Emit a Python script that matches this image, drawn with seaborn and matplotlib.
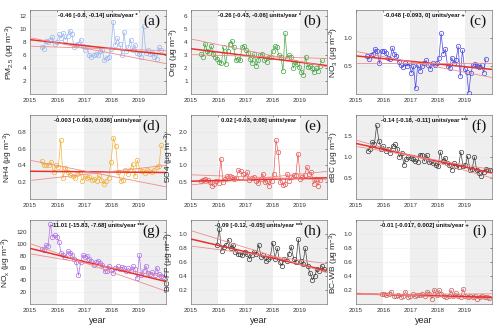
import numpy as np
import pandas as pd
import matplotlib
matplotlib.use("Agg")
import matplotlib.pyplot as plt
import seaborn as sns

sns.set_theme(style="white")
plt.rcParams['font.family'] = ['Liberation Sans', 'DejaVu Sans']
plt.rcParams['mathtext.fontset'] = 'custom'
plt.rcParams['mathtext.rm'] = 'Liberation Sans'
plt.rcParams['mathtext.it'] = 'Liberation Sans'

# ---------------- data ----------------
labels = ["(a)", "(b)", "(c)", "(d)", "(e)", "(f)", "(g)", "(h)", "(i)"]
ylabels = [r"PM$_{2.5}$ ($\mu$g m$^{-3}$)", r"Org ($\mu$g m$^{-3}$)", r"NO$_3$ ($\mu$g m$^{-3}$)",
           r"NH4 ($\mu$g m$^{-3}$)", r"SO4 ($\mu$g m$^{-3}$)", r"eBC ($\mu$g m$^{-3}$)",
           r"NO$_x$ ($\mu$g m$^{-3}$)", r"BC-FF ($\mu$g m$^{-3}$)", r"BC-WB ($\mu$g m$^{-3}$)"]
trend_text = ["-0.46 [-0.8, -0.14] units/year *", "-0.26 [-0.43, -0.06] units/year *",
              "-0.048 [-0.093, 0] units/year +", "-0.003 [-0.063, 0.036] units/year",
              "0.02 [-0.03, 0.08] units/year", "-0.14 [-0.18, -0.11] units/year ***",
              "-11.01 [-15.83, -7.68] units/year ***", "-0.09 [-0.12, -0.05] units/year ***",
              "-0.01 [-0.017, 0.002] units/year +"]
# first and last sampling dates of each series
first_date = ["2015-06-05", "2015-05-15", "2015-05-25", "2015-06-05", "2015-05-15", "2015-06-05",
              "2015-06-05", "2015-12-15", "2015-12-10"]
last_date = ["2019-10-25", "2019-10-25", "2019-10-10", "2019-10-30", "2019-10-01", "2019-12-10",
             "2019-11-25", "2019-11-20", "2019-11-28"]
ylims = [(0, 13), (0, 6.5), (0, 1.5), (0, 1.0), (0, 2.5), (0, 2.0), (0, 140), (0, 1.2), (0, 1.2)]
yticks = [[2, 4, 6, 8, 10, 12], [1, 2, 3, 4, 5, 6], [0.5, 1.0], [0.2, 0.4, 0.6, 0.8],
          [0.5, 1.0, 1.5, 2.0], [0.5, 1.0, 1.5], [20, 40, 60, 80, 100, 120],
          [0.2, 0.4, 0.6, 0.8, 1.0], [0.2, 0.4, 0.6, 0.8, 1.0]]
ytickfmt = ["{:.0f}", "{:.0f}", "{:.1f}", "{:.1f}", "{:.1f}", "{:.1f}", "{:.0f}", "{:.1f}", "{:.1f}"]
colors = ["#9db8ee", "#4aa84a", "#4a4ae6", "#f2b23a", "#e85a5a", "#404040",
          "#b070e8", "#404040", "#c86060"]

pm25 = [7.2, 7.0, 8.2, 8.0, 8.4, 8.8, 7.8, 8.0, 9.2, 8.6, 9.4, 8.4, 9.0, 9.8, 9.2, 7.2, 7.6, 7.8,
        8.4, 7.4, 6.8, 7.2, 6.0, 5.8, 6.0, 6.2, 6.0, 6.6, 6.8, 5.2, 5.6, 5.8, 7.0, 11.2, 7.6, 8.6,
        7.8, 6.0, 9.6, 6.6, 7.2, 8.4, 6.8, 7.6, 6.4, 6.2, 5.8, 10.5, 6.4, 6.8, 6.2, 6.4, 5.8, 5.4,
        7.2, 6.8]
org = [3.1, 2.9, 3.9, 3.3, 3.2, 3.7, 3.1, 2.9, 2.7, 2.5, 2.4, 3.6, 2.3, 3.3, 3.9, 4.1, 3.6, 2.6,
       2.7, 2.6, 3.6, 3.7, 3.4, 3.2, 2.7, 2.4, 3.1, 2.2, 2.6, 3.0, 3.1, 2.6, 2.5, 2.9, 2.9, 3.3,
       3.7, 3.6, 3.0, 2.9, 1.8, 4.7, 2.8, 3.0, 2.9, 2.0, 2.5, 2.3, 2.1, 1.7, 1.5, 2.9, 2.1, 2.2,
       2.0, 1.7, 2.0, 1.8, 2.2, 2.6]
no3 = [0.68, 0.62, 0.70, 0.72, 0.80, 0.76, 0.55, 0.77, 0.77, 0.73, 0.65, 0.62, 0.82, 0.72, 0.68,
       0.58, 0.52, 0.48, 0.55, 0.50, 0.55, 0.38, 0.50, 0.10, 0.52, 0.42, 0.50, 0.55, 0.60, 0.52,
       0.45, 0.55, 0.52, 0.55, 0.65, 1.08, 0.72, 0.80, 0.50, 0.47, 0.65, 0.55, 0.60, 0.85, 0.32,
       0.78, 0.45, 0.40, 0.02, 0.38, 0.52, 0.53, 0.50, 0.48, 0.52, 0.38, 0.63]
nh4 = [0.45, 0.40, 0.41, 0.40, 0.44, 0.32, 0.40, 0.38, 0.70, 0.25, 0.37, 0.32, 0.28, 0.27, 0.25,
       0.30, 0.32, 0.22, 0.27, 0.25, 0.26, 0.23, 0.24, 0.22, 0.28, 0.23, 0.18, 0.22, 0.25, 0.44,
       0.73, 0.63, 0.32, 0.22, 0.23, 0.34, 0.30, 0.35, 0.42, 0.27, 0.46, 0.35, 0.33, 0.31, 0.34,
       0.33, 0.32, 0.35, 0.38, 0.39, 0.64]
so4 = [0.55, 0.58, 0.60, 0.58, 0.50, 0.40, 0.45, 0.55, 0.48, 1.20, 0.50, 0.60, 0.68, 0.68, 0.65,
       0.60, 0.62, 0.85, 0.82, 0.75, 0.65, 0.80, 0.58, 0.62, 0.65, 0.55, 0.48, 0.60, 0.75, 0.50,
       0.55, 0.40, 0.55, 0.75, 1.75, 1.40, 0.50, 0.42, 0.45, 0.75, 0.55, 0.65, 0.70, 0.72, 1.35,
       0.60, 0.65, 0.70, 0.95, 0.75, 0.80, 0.45, 0.60, 0.40, 0.58]
ebc = [1.15, 1.20, 1.35, 1.30, 1.75, 1.38, 1.20, 1.25, 1.15, 1.20, 1.10, 1.25, 1.30, 1.20, 1.00,
       1.10, 0.82, 0.95, 1.00, 0.98, 0.95, 0.90, 0.88, 1.05, 1.05, 0.90, 1.05, 0.88, 0.90, 0.85,
       0.80, 0.78, 1.12, 0.90, 0.98, 0.85, 0.80, 0.70, 0.85, 0.78, 0.75, 1.12, 0.78, 0.80, 1.02,
       0.70, 0.72, 1.00, 0.68, 0.62, 0.55, 0.65, 0.72, 0.70, 0.68]
nox = [92, 90, 98, 97, 133, 112, 115, 112, 104, 85, 82, 78, 88, 86, 82, 75, 70, 48, 70, 82, 78,
       80, 75, 72, 65, 70, 72, 68, 66, 55, 56, 64, 57, 52, 60, 63, 58, 62, 60, 56, 60, 55, 63, 58,
       43, 82, 48, 55, 64, 52, 50, 53, 48, 61, 50, 47, 46]
bcff = [0.85, 1.08, 0.76, 0.82, 0.85, 0.92, 0.80, 0.85, 0.75, 0.72, 0.72, 0.70, 0.75, 0.72, 0.65,
        0.70, 0.75, 0.72, 0.85, 0.68, 0.70, 0.62, 0.65, 0.68, 0.88, 0.65, 0.80, 0.60, 0.55, 0.65,
        0.62, 0.72, 0.82, 0.65, 0.60, 0.93, 0.62, 0.58, 0.80, 0.55, 0.45, 0.35, 0.40, 0.50, 0.48,
        0.55, 0.50]
bcwb = [0.14, 0.15, 0.13, 0.14, 0.18, 0.12, 0.12, 0.13, 0.11, 0.12, 0.18, 0.10, 0.12, 0.14, 0.12,
        0.13, 0.13, 0.15, 0.12, 0.18, 0.15, 0.08, 0.21, 0.13, 0.20, 0.15, 0.12, 0.10, 0.12, 0.20,
        0.12, 0.16, 0.12, 0.10, 0.22, 0.12, 0.10, 0.12, 0.10, 0.12, 0.08, 0.10, 0.12, 0.11, 0.10,
        0.09]
series = [pm25, org, no3, nh4, so4, ebc, nox, bcff, bcwb]

# trend lines: value at 2015 and slope (units/year): central, bound 1, bound 2
trend_int = [8.4, 3.5, 0.68, 0.33, 0.53, 1.32, 93, 0.93, 0.15]
trend_slope = [-0.46, -0.26, -0.048, -0.003, 0.02, -0.14, -11.01, -0.09, -0.01]
lo_int = [8.7, 4.25, 0.76, 0.46, 0.72, 1.40, 101, 1.05, 0.16]
lo_slope = [-0.8, -0.43, -0.093, -0.063, -0.03, -0.18, -15.83, -0.12, -0.017]
hi_int = [7.4, 3.05, 0.56, 0.22, 0.42, 1.25, 84, 0.83, 0.14]
hi_slope = [-0.14, -0.06, 0.0, 0.036, 0.08, -0.11, -7.68, -0.05, 0.002]

years = [2015, 2016, 2017, 2018, 2019]
shaded_years = [2015, 2017, 2019]


def decimal_year(d):
    start = pd.to_datetime(d.year.astype(str) + "-01-01")
    end = pd.to_datetime((d.year + 1).astype(str) + "-01-01")
    return d.year + (d - start) / (end - start)


# ---------------- figure ----------------
fig = plt.figure(figsize=(5.0, 3.29), dpi=100)
lefts = [0.060, 0.382, 0.712]
bottoms = [0.714, 0.395, 0.075]
W, H = 0.272, 0.256

for k in range(9):
    r, c = divmod(k, 3)
    ax = fig.add_axes([lefts[c], bottoms[r], W, H])
    for y0 in shaded_years:
        ax.axvspan(y0, y0 + 1, color="#efefef", lw=0, zorder=0)
    ax.set_xlim(2015, 2020)
    ax.set_ylim(*ylims[k])
    for yt in yticks[k]:
        ax.axhline(yt, color="#e0e0e0", lw=0.4, ls=(0, (1, 1)), zorder=0.5)

    dates = pd.date_range(first_date[k], last_date[k], periods=len(series[k]))
    df = pd.DataFrame({"t": np.asarray(decimal_year(dates), dtype=float), "v": series[k]})
    sns.lineplot(data=df, x="t", y="v", ax=ax, color=colors[k], lw=0.5,
                 marker="o", markersize=3.2, markerfacecolor="none",
                 markeredgecolor=colors[k], markeredgewidth=0.5, zorder=3)

    tx = np.array([2015.0, 2020.0])
    ax.plot(tx, trend_int[k] + trend_slope[k] * (tx - 2015), color="#e8302a", lw=1.1, zorder=4)
    ax.plot(tx, lo_int[k] + lo_slope[k] * (tx - 2015), color="#f08c8c", lw=0.6, zorder=4)
    ax.plot(tx, hi_int[k] + hi_slope[k] * (tx - 2015), color="#f08c8c", lw=0.6, zorder=4)

    ax.set_xticks(years)
    ax.set_xticklabels([str(y) for y in years])
    ax.set_yticks(yticks[k])
    ax.set_yticklabels([ytickfmt[k].format(v) for v in yticks[k]])
    ax.tick_params(axis="both", labelsize=4.5, length=1.5, width=0.4, direction="in",
                   top=True, right=True, pad=2.5, colors="#333333")
    for s in ax.spines.values():
        s.set_color("#777777")
        s.set_linewidth(0.5)
    ax.set_ylabel(ylabels[k], fontsize=6, labelpad=2)
    if r == 2:
        ax.set_xlabel("year", fontsize=6.5, labelpad=2)
    else:
        ax.set_xlabel("")
    ax.text(0.5, 0.93, trend_text[k], transform=ax.transAxes, ha="center", va="center",
            fontsize=4.2, fontweight="bold", color="#111111")
    ax.text(0.96, 0.87, labels[k], transform=ax.transAxes, ha="right", va="center",
            fontsize=11, family=["Liberation Serif", "DejaVu Serif"], color="#111111")

fig.savefig("out.png", dpi=100)
